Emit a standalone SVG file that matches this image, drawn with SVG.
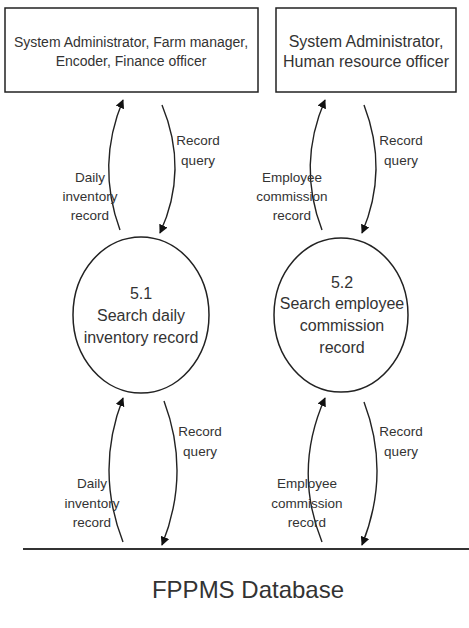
<svg xmlns="http://www.w3.org/2000/svg" width="469" height="628" viewBox="0 0 469 628">
<style>
text{font-family:"Liberation Sans",Arial,sans-serif;fill:#333;text-anchor:middle}
.box{fill:#fff;stroke:#222;stroke-width:1.5}
.proc{fill:#fff;stroke:#222;stroke-width:1.5}
.flow{fill:none;stroke:#222;stroke-width:1.4;marker-end:url(#ah)}
.lbl{font-size:13.5px}
</style>
<defs>
<marker id="ah" viewBox="0 0 10 10" refX="9" refY="5" markerWidth="9" markerHeight="9" markerUnits="userSpaceOnUse" orient="auto">
<path d="M0,0 L10,5 L0,10 z" fill="#111"/>
</marker>
</defs>
<rect width="469" height="628" fill="#fff"/>
<g id="ext1">
<rect class="box" x="5" y="8" width="253" height="84"/>
<text x="131" y="47" font-size="14">System Administrator, Farm manager,</text>
<text x="131" y="66" font-size="14">Encoder, Finance officer</text>
</g>
<g id="ext2">
<rect class="box" x="276" y="8" width="180" height="84"/>
<text x="366" y="47" font-size="16">System Administrator,</text>
<text x="366" y="67" font-size="16">Human resource officer</text>
</g>
<g id="p51">
<ellipse class="proc" cx="141" cy="315" rx="68" ry="78"/>
<text x="141" y="299" font-size="16">5.1</text>
<text x="141" y="321" font-size="16">Search daily</text>
<text x="141" y="343" font-size="16">inventory record</text>
</g>
<g id="p52">
<ellipse class="proc" cx="341" cy="315" rx="67" ry="77"/>
<text x="342" y="288" font-size="16">5.2</text>
<text x="342" y="309" font-size="16">Search employee</text>
<text x="342" y="331" font-size="16">commission</text>
<text x="342" y="353" font-size="16">record</text>
</g>
<g id="store">
<line x1="23" y1="549" x2="469" y2="549" stroke="#333" stroke-width="2"/>
<text x="248" y="598" font-size="24">FPPMS Database</text>
</g>
<g id="connectors">
<path class="flow" d="M120,230 Q96,165 123,100"/>
<path class="flow" d="M162,105 Q189,170 160,233"/>
<path class="flow" d="M322,230 Q297,165 325,100"/>
<path class="flow" d="M364,105 Q389,170 362,233"/>
<path class="flow" d="M123,542 Q95,470 123,398"/>
<path class="flow" d="M164,401 Q191,473 162,545"/>
<path class="flow" d="M322,542 Q293,470 325,398"/>
<path class="flow" d="M364,402 Q391,473 362,545"/>
</g>
<g id="labels" class="lbl">
<text class="lbl" x="198" y="145">Record</text>
<text class="lbl" x="198" y="165">query</text>
<text class="lbl" x="90" y="182">Daily</text>
<text class="lbl" x="90" y="201">inventory</text>
<text class="lbl" x="90" y="220">record</text>
<text class="lbl" x="401" y="145">Record</text>
<text class="lbl" x="401" y="165">query</text>
<text class="lbl" x="292" y="182">Employee</text>
<text class="lbl" x="292" y="201">commission</text>
<text class="lbl" x="292" y="220">record</text>
<text class="lbl" x="200" y="436">Record</text>
<text class="lbl" x="200" y="456">query</text>
<text class="lbl" x="92" y="488">Daily</text>
<text class="lbl" x="92" y="508">inventory</text>
<text class="lbl" x="92" y="527">record</text>
<text class="lbl" x="401" y="436">Record</text>
<text class="lbl" x="401" y="456">query</text>
<text class="lbl" x="307" y="488">Employee</text>
<text class="lbl" x="307" y="508">commission</text>
<text class="lbl" x="307" y="527">record</text>
</g>
</svg>
